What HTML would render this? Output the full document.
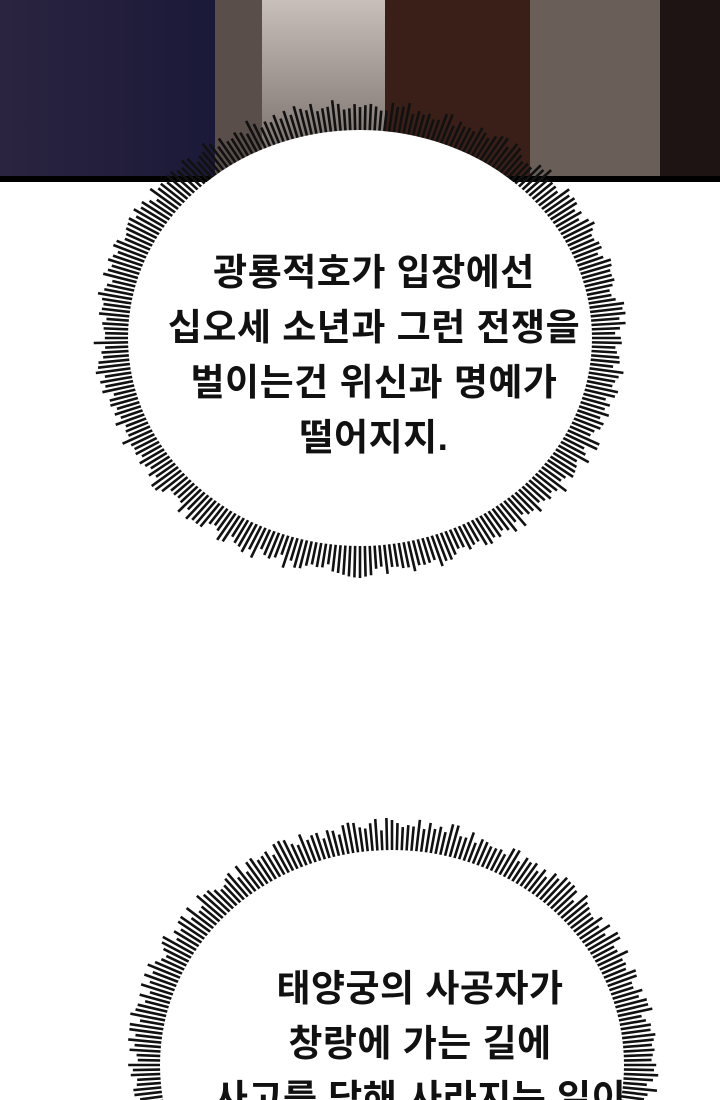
<!DOCTYPE html>
<html><head><meta charset="utf-8"><style>
html,body{margin:0;padding:0;background:#fff;width:720px;height:1100px;overflow:hidden}
body{position:relative}
svg{position:absolute;left:0;top:0}
.t{position:absolute;left:0;width:720px;text-align:center;font-family:"Liberation Sans","Noto Sans CJK KR","NanumGothic",sans-serif;font-weight:bold;font-size:37px;line-height:55px;color:#111;letter-spacing:0.5px;white-space:nowrap}
</style></head><body>
<svg id="s" width="720" height="1100" viewBox="0 0 720 1100">
<defs>
<linearGradient id="g1" x1="0" y1="0" x2="1" y2="0"><stop offset="0" stop-color="#2a2440"/><stop offset="1" stop-color="#1a1838"/></linearGradient>
<linearGradient id="g2" x1="0" y1="0" x2="0" y2="1"><stop offset="0" stop-color="#c8bfba"/><stop offset="1" stop-color="#6e6460"/></linearGradient>
</defs>
<rect x="0" y="0" width="720" height="178" fill="#2a2230"/>
<rect x="0" y="0" width="230" height="178" fill="url(#g1)"/>
<rect x="215" y="0" width="50" height="178" fill="#5a4e4a"/>
<rect x="262" y="0" width="130" height="178" fill="url(#g2)"/>
<rect x="385" y="0" width="150" height="178" fill="#3a1f18"/>
<rect x="530" y="0" width="150" height="178" fill="#6a5e58"/>
<rect x="660" y="0" width="60" height="178" fill="#1e1414"/>
<rect x="0" y="176" width="720" height="6" fill="#000"/>
<g id="sp" stroke="#111" stroke-width="2.6"></g>
<ellipse cx="360" cy="338" rx="232" ry="208" fill="#fff"/>
<ellipse cx="392" cy="1065" rx="232" ry="215" fill="#fff"/>
</svg>
<div class="t" style="top:245px;left:14px">광룡적호가 입장에선<br>십오세 소년과 그런 전쟁을<br>벌이는건 위신과 명예가<br>떨어지지.</div>
<div class="t" style="top:961px;left:60px;height:139px;overflow:hidden">태양궁의 사공자가<br>창랑에 가는 길에<br>사고를 당해 사라지는 일이</div>
<script>
var g=document.getElementById('sp'),ns='http://www.w3.org/2000/svg';
function burst(cx,cy,rx,ry,n,seed){
 var r=seed;function rnd(){r=(r*9301+49297)%233280;return r/233280;}
 for(var i=0;i<n;i++){var a=i/n*Math.PI*2,c=Math.cos(a),s=Math.sin(a);
  var L=22+rnd()*14;
  var l=document.createElementNS(ns,'line');
  l.setAttribute('x1',cx+c*(rx-5));l.setAttribute('y1',cy+s*(ry-5));
  l.setAttribute('x2',cx+c*(rx+L));l.setAttribute('y2',cy+s*(ry+L*0.9));
  g.appendChild(l);}
}
burst(360,338,232,208,300,7);
burst(392,1065,232,215,300,13);
</script>
</body></html>
